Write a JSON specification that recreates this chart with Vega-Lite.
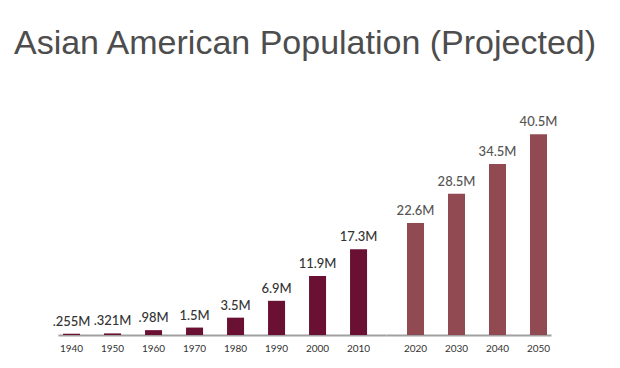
{
  "$schema": "https://vega.github.io/schema/vega-lite/v6.json",
  "padding": {"left": 13, "top": 27, "right": 5, "bottom": 10},
  "background": "white",
  "title": {
    "text": "Asian American Population (Projected)",
    "font": "Liberation Sans",
    "fontSize": 34,
    "fontWeight": "normal",
    "color": "#4d4d4d",
    "anchor": "middle",
    "offset": 51
  },
  "data": {
    "values": [
      {"year": "1940", "value": 0.255, "label": ".255M", "period": "historical"},
      {"year": "1950", "value": 0.321, "label": ".321M", "period": "historical"},
      {"year": "1960", "value": 0.98, "label": ".98M", "period": "historical"},
      {"year": "1970", "value": 1.5, "label": "1.5M", "period": "historical"},
      {"year": "1980", "value": 3.5, "label": "3.5M", "period": "historical"},
      {"year": "1990", "value": 6.9, "label": "6.9M", "period": "historical"},
      {"year": "2000", "value": 11.9, "label": "11.9M", "period": "historical"},
      {"year": "2010", "value": 17.3, "label": "17.3M", "period": "historical"},
      {"year": "2020", "value": 22.6, "label": "22.6M", "period": "projected"},
      {"year": "2030", "value": 28.5, "label": "28.5M", "period": "projected"},
      {"year": "2040", "value": 34.5, "label": "34.5M", "period": "projected"},
      {"year": "2050", "value": 40.5, "label": "40.5M", "period": "projected"}
    ]
  },
  "spacing": 0,
  "hconcat": [
    {
      "width": 328,
      "height": 223,
      "transform": [{"filter": "datum.period === 'historical'"}],
      "encoding": {
        "x": {
          "field": "year",
          "type": "ordinal",
          "scale": {"paddingInner": 0.585, "paddingOuter": 0.2925, "align": 0.21},
          "axis": {"title": null, "labelAngle": 0, "ticks": false, "domainColor": "#a0a0a0", "domainWidth": 2, "labelFont": "Lato", "labelFontSize": 10, "labelColor": "#333333", "labelPadding": 8}
        },
        "y": {"field": "value", "type": "quantitative", "scale": {"domain": [0, 45]}, "axis": null}
      },
      "layer": [
        {"mark": {"type": "bar", "color": "#6a1133"}},
        {"mark": {"type": "text", "baseline": "bottom", "dy": -5, "font": "Lato", "fontSize": 13, "fontWeight": 500, "color": "#333333"}, "encoding": {"text": {"field": "label"}}}
      ]
    },
    {
      "width": 165,
      "height": 223,
      "transform": [{"filter": "datum.period === 'projected'"}],
      "encoding": {
        "x": {
          "field": "year",
          "type": "ordinal",
          "scale": {"paddingInner": 0.585, "paddingOuter": 0.305, "align": 0.84},
          "axis": {"title": null, "labelAngle": 0, "ticks": false, "domainColor": "#a0a0a0", "domainWidth": 2, "labelFont": "Lato", "labelFontSize": 10, "labelColor": "#333333", "labelPadding": 8}
        },
        "y": {"field": "value", "type": "quantitative", "scale": {"domain": [0, 45]}, "axis": null}
      },
      "layer": [
        {"mark": {"type": "bar", "color": "#914a52"}},
        {"mark": {"type": "text", "baseline": "bottom", "dy": -5, "font": "Lato", "fontSize": 13, "fontWeight": 500, "color": "#555555"}, "encoding": {"text": {"field": "label"}}}
      ]
    }
  ],
  "config": {"view": {"stroke": null}}
}
